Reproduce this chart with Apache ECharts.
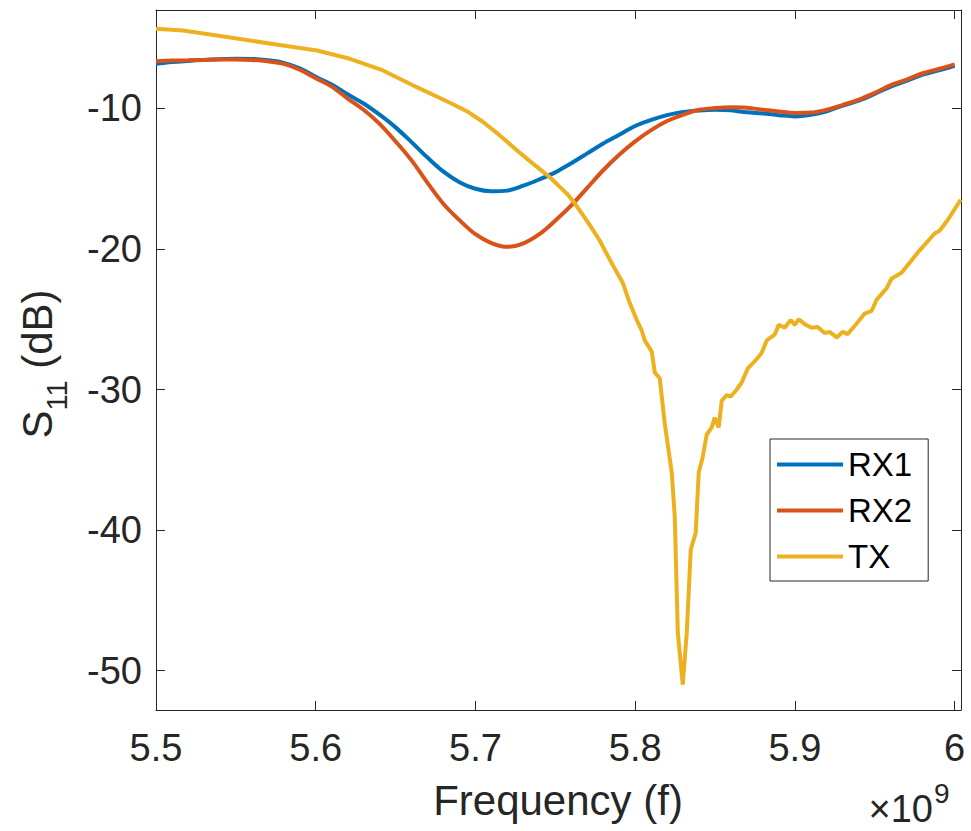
<!DOCTYPE html>
<html><head><meta charset="utf-8">
<script src="https://cdn.jsdelivr.net/npm/echarts@6/dist/echarts.min.js"></script>
<style>html,body{margin:0;padding:0;background:#fff}#c{width:971px;height:831px}</style>
</head><body><div id="c"></div>
<script>
// Frequencies in GHz (axis multiplier ×10^9)
const freqRX = [5.50,5.51,5.52,5.53,5.54,5.55,5.56,5.57,5.58,5.59,5.60,5.61,5.62,5.63,5.64,5.65,5.66,5.67,5.68,5.69,5.70,5.71,5.72,5.73,5.74,5.75,5.76,5.77,5.78,5.79,5.80,5.81,5.82,5.83,5.84,5.85,5.86,5.87,5.88,5.89,5.90,5.91,5.92,5.93,5.94,5.95,5.96,5.97,5.98,5.99,6.00];
const rx1 = [-6.82,-6.70,-6.62,-6.55,-6.50,-6.47,-6.48,-6.58,-6.76,-7.15,-7.75,-8.30,-9.00,-9.65,-10.45,-11.35,-12.40,-13.50,-14.50,-15.25,-15.72,-15.90,-15.85,-15.50,-15.05,-14.55,-13.90,-13.20,-12.50,-11.88,-11.25,-10.82,-10.48,-10.26,-10.15,-10.10,-10.14,-10.28,-10.36,-10.48,-10.57,-10.45,-10.20,-9.80,-9.45,-8.97,-8.45,-8.05,-7.60,-7.30,-6.97];
const rx2 = [-6.64,-6.60,-6.58,-6.55,-6.52,-6.52,-6.55,-6.65,-6.83,-7.25,-7.85,-8.45,-9.30,-10.10,-11.10,-12.35,-13.70,-15.30,-16.80,-17.95,-18.95,-19.58,-19.85,-19.60,-18.95,-17.98,-16.90,-15.65,-14.40,-13.30,-12.35,-11.55,-10.90,-10.45,-10.10,-9.98,-9.92,-9.95,-10.10,-10.22,-10.32,-10.30,-10.10,-9.75,-9.38,-8.90,-8.35,-7.95,-7.50,-7.20,-6.87];
const freqTX = [5.5000,5.5169,5.5382,5.5588,5.5795,5.6008,5.6214,5.6421,5.6633,5.6840,5.6946,5.7046,5.7153,5.7259,5.7360,5.7466,5.7572,5.7622,5.7710,5.7778,5.7810,5.7860,5.7922,5.7966,5.8010,5.8041,5.8060,5.8104,5.8123,5.8154,5.8185,5.8229,5.8248,5.8267,5.8298,5.8323,5.8348,5.8379,5.8398,5.8423,5.8448,5.8479,5.8498,5.8523,5.8542,5.8573,5.8598,5.8636,5.8667,5.8705,5.8748,5.8792,5.8824,5.8873,5.8899,5.8936,5.8974,5.8999,5.9024,5.9061,5.9105,5.9143,5.9186,5.9218,5.9262,5.9299,5.9330,5.9387,5.9437,5.9481,5.9512,5.9574,5.9606,5.9668,5.9731,5.9781,5.9875,5.9906,5.9956,6.0038];
const tx = [-4.34,-4.46,-4.81,-5.17,-5.52,-5.88,-6.47,-7.30,-8.49,-9.60,-10.20,-10.95,-11.92,-12.98,-13.93,-14.90,-16.06,-16.75,-18.20,-19.40,-20.10,-21.15,-22.40,-23.85,-25.06,-25.80,-26.50,-27.30,-28.80,-29.20,-32.40,-35.90,-39.06,-47.30,-51.00,-47.30,-41.40,-40.20,-35.90,-34.80,-33.20,-32.70,-32.00,-32.70,-30.80,-30.40,-30.50,-30.00,-29.50,-28.50,-28.00,-27.40,-26.50,-26.10,-25.40,-25.60,-25.06,-25.40,-25.00,-25.35,-25.60,-25.55,-25.98,-25.90,-26.30,-25.90,-26.06,-25.30,-24.60,-24.40,-23.60,-22.80,-22.10,-21.70,-20.80,-20.10,-18.90,-18.70,-17.96,-16.50];
const seriesNames = ['RX1','RX2','TX'];
const seriesColors = ['#0072BD','#D95319','#EDB120'];
const xTicks = [5.5,5.6,5.7,5.8,5.9,6.0];
const yTicks = [-50,-40,-30,-20,-10];
const xRange = [5.5, 6.004];
const yRange = [-52.8, -3.0];

const FONT = '"Liberation Sans", Arial, Helvetica, sans-serif';
const AX = '#262626';

function axis(kind, pos, ticks, range, showLabels, fmt) {
  return {
    type: 'value', position: pos, min: range[0], max: range[1],
    axisLine: { show: true, onZero: false, lineStyle: { color: AX, width: 1 } },
    axisTick: { show: true, inside: true, length: 9, customValues: ticks, lineStyle: { color: AX, width: 1 } },
    axisLabel: { show: showLabels, customValues: ticks, formatter: fmt, color: AX, fontSize: 38, fontFamily: FONT,
                 margin: kind === 'x' ? 19 : 14 },
    splitLine: { show: false }
  };
}
const xfmt = v => String(Number(v.toFixed(1)));
const yfmt = v => String(Math.round(v));

const chart = echarts.init(document.getElementById('c'), null, { renderer: 'svg' });
const dataSets = [freqRX.map((f, i) => [f, rx1[i]]), freqRX.map((f, i) => [f, rx2[i]]), freqTX.map((f, i) => [f, tx[i]])];
const smoothing = [0.35, 0.35, false];
chart.setOption({
  animation: false,
  backgroundColor: '#fff',
  grid: { left: 156, top: 10, right: 10, bottom: 121, containLabel: false },
  xAxis: [axis('x', 'bottom', xTicks, xRange, true, xfmt), axis('x', 'top', xTicks, xRange, false, xfmt)],
  yAxis: [axis('y', 'left', yTicks, yRange, true, yfmt), axis('y', 'right', yTicks, yRange, false, yfmt)],
  legend: {
    orient: 'vertical', left: 770, top: 439, padding: [9, 16, 8, 7], itemGap: 13,
    icon: 'rect', itemWidth: 66, itemHeight: 4, itemTextGap: 5,
    borderColor: AX, borderWidth: 1, backgroundColor: '#fff',
    textStyle: { fontSize: 33, color: '#000', fontFamily: FONT },
    data: seriesNames
  },
  series: seriesNames.map((n, i) => ({
    name: n, type: 'line', data: dataSets[i], showSymbol: false, symbol: 'none',
    smooth: smoothing[i],
    color: seriesColors[i], lineStyle: { width: 4, color: seriesColors[i] }, clip: true
  })),
  graphic: [
    { type: 'text', x: 558, y: 800, style: { text: 'Frequency (f)', font: '42px ' + FONT, fill: AX, align: 'center', verticalAlign: 'middle' } },
    { type: 'text', x: 933, y: 809, style: { text: '×10', font: '38px ' + FONT, fill: AX, align: 'right', verticalAlign: 'middle' } },
    { type: 'text', x: 934, y: 793, style: { text: '9', font: '28px ' + FONT, fill: AX, align: 'left', verticalAlign: 'middle' } },
    { type: 'text', x: 37, y: 364, rotation: Math.PI / 2, style: { text: '{a|S}{b|11}{a| (dB)}', align: 'center', verticalAlign: 'middle', fill: AX,
        rich: { a: { fontSize: 42, fontFamily: FONT, fill: AX, lineHeight: 68, verticalAlign: 'middle' },
                b: { fontSize: 29, fontFamily: FONT, fill: AX, lineHeight: 68, verticalAlign: 'bottom' } } } }
  ]
});
</script></body></html>
